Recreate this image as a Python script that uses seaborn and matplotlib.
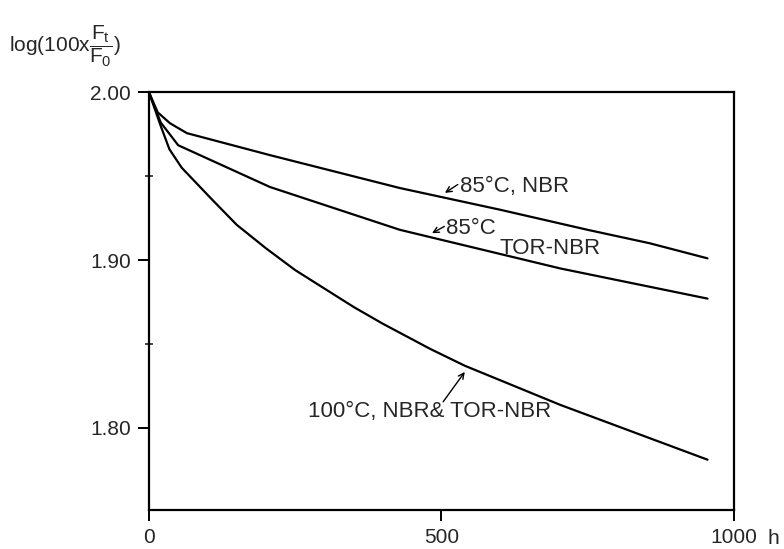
import matplotlib
matplotlib.use("Agg")
import matplotlib.pyplot as plt
import numpy as np
import pandas as pd
import seaborn as sns

# values (hours vs log(100 x Ft/F0))
hours_85_nbr = [0, 15, 36, 65, 207, 429, 600, 750, 856, 955]
logf_85_nbr = [2.000, 1.988, 1.9815, 1.9756, 1.9625, 1.9429, 1.930, 1.918, 1.910, 1.901]

hours_85_tor = [0, 20, 50, 207, 429, 703, 955]
logf_85_tor = [2.000, 1.982, 1.9684, 1.9435, 1.918, 1.895, 1.877]

hours_100 = [0, 20, 35, 56, 108, 150, 200, 250, 300, 350, 400, 481, 540, 703, 955]
logf_100 = [2.000, 1.980, 1.966, 1.955, 1.936, 1.921, 1.907, 1.894, 1.883, 1.872,
            1.862, 1.847, 1.837, 1.8137, 1.781]

x_ticks = [0, 500, 1000]
x_ticklabels = ["0", "500", "1000"]
y_ticks = [1.80, 1.90, 2.00]
y_ticklabels = ["1.80", "1.90", "2.00"]

df = pd.concat(
    [
        pd.DataFrame({"h": hours_85_nbr, "logf": logf_85_nbr, "series": "85C NBR"}),
        pd.DataFrame({"h": hours_85_tor, "logf": logf_85_tor, "series": "85C TOR-NBR"}),
        pd.DataFrame({"h": hours_100, "logf": logf_100, "series": "100C"}),
    ]
)

sns.set_style("white")
plt.rcParams["font.family"] = ["Liberation Sans Narrow", "Liberation Sans", "DejaVu Sans"]
plt.rcParams["mathtext.fontset"] = "custom"
plt.rcParams["mathtext.rm"] = "Liberation Sans"
plt.rcParams["mathtext.it"] = "Liberation Sans"

fig = plt.figure(figsize=(7.84, 5.49), dpi=100)
ax = fig.add_axes([0.190, 0.071, 0.746, 0.761])

sns.lineplot(
    data=df,
    x="h",
    y="logf",
    hue="series",
    palette=["black", "black", "black"],
    estimator=None,
    legend=False,
    linewidth=1.6,
    ax=ax,
)

ax.set_xlim(0, 1000)
ax.set_ylim(1.751, 2.0)
ax.set_xticks(x_ticks)
ax.set_xticklabels(x_ticklabels)
ax.set_yticks(y_ticks)
ax.set_yticklabels(y_ticklabels)
ax.set_yticks([1.85, 1.95], minor=True)
ax.set_xlabel("")
ax.set_ylabel("")
for s in ax.spines.values():
    s.set_color("black")
    s.set_linewidth(1.6)
ax.tick_params(axis="both", which="major", direction="out", length=8, width=1.4,
               labelsize=15, pad=5, color="black", left=True, bottom=True)
ax.tick_params(axis="y", which="minor", direction="inout", length=6, width=1.2, left=True)

# unit after the last x tick label, on the same baseline
ax.annotate("h", xy=(1, 0), xycoords="axes fraction", xytext=(40, -34),
            textcoords="offset pixels", fontsize=15, ha="center", va="baseline")

# y axis title above the axes
fig.text(0.012, 0.915, r"log(100x$\dfrac{F_t}{F_0}$)", fontsize=15, ha="left", va="center")

# curve labels with little arrows
arrow = dict(arrowstyle="->", color="black", lw=1.0, shrinkA=0, shrinkB=0)
ax.annotate("", xy=(506, 1.940), xytext=(528, 1.945), arrowprops=arrow)
ax.text(532, 1.944, "85°C, NBR", fontsize=16, ha="left", va="center")

ax.annotate("", xy=(484, 1.916), xytext=(505, 1.920), arrowprops=arrow)
ax.text(508, 1.919, "85°C", fontsize=16, ha="left", va="center")
ax.text(600, 1.907, "TOR-NBR", fontsize=16, ha="left", va="center")

ax.annotate("", xy=(540, 1.8333), xytext=(503, 1.8155), arrowprops=arrow)
ax.text(480, 1.8095, "100°C, NBR& TOR-NBR", fontsize=16, ha="center", va="center")

fig.savefig("out.png", dpi=100, facecolor="white")
